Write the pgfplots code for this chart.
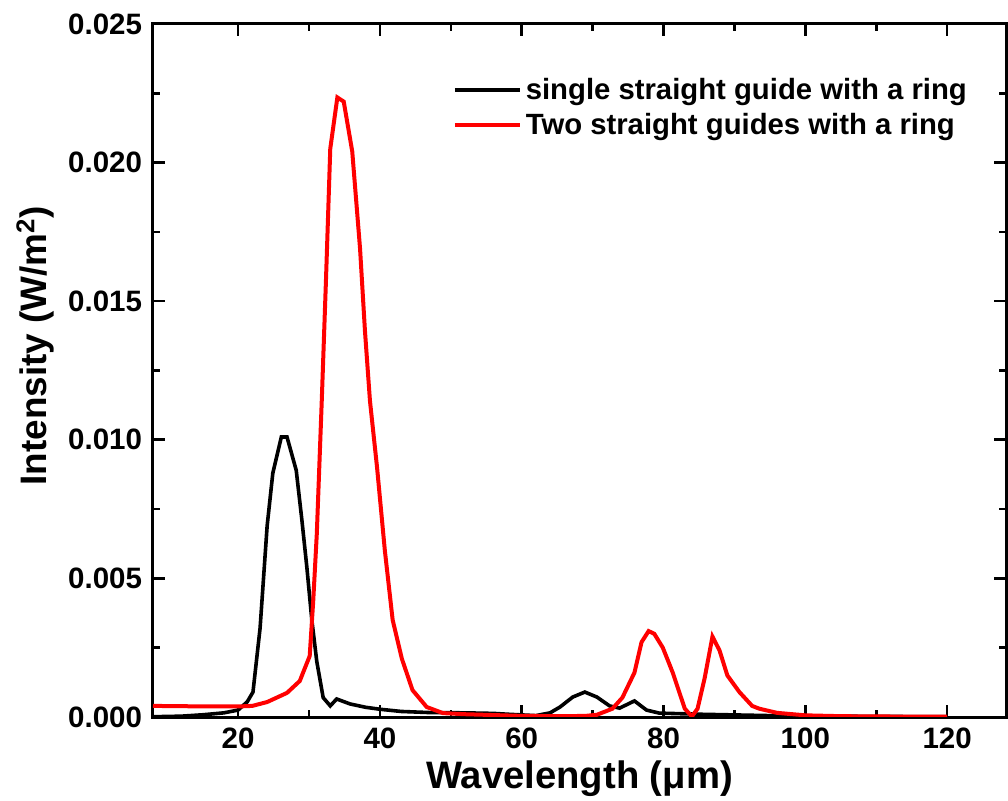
\documentclass[border=0pt]{standalone}
\usepackage{fontspec}
\setmainfont{Liberation Sans}
\usepackage{pgfplots}
\pgfplotsset{compat=1.18}
\begin{document}
\begin{tikzpicture}
\begin{axis}[
  at={(0,0)}, anchor=south west,
  scale only axis,
  width=426.5bp, height=346.5bp,
  xmin=8, xmax=128.3,
  ymin=0, ymax=0.025,
  xtick={20,40,60,80,100,120},
  xticklabels={20,40,60,80,100,120},
  ytick={0,0.005,0.010,0.015,0.020,0.025},
  yticklabels={0.000,0.005,0.010,0.015,0.020,0.025},
  scaled y ticks=false,
  minor x tick num=1,
  minor y tick num=1,
  tick align=inside,
  major tick length=6bp,
  minor tick length=3.5bp,
  tick style={line width=1.3bp, black},
  axis line style={line width=1.5bp},
  ticklabel style={font=\bfseries\fontsize{14.8}{16}\selectfont},
  yticklabel style={xshift=-2bp},
  xticklabel style={yshift=-2bp},
  xlabel={Wavelength (μm)},
  ylabel={Intensity (W/m\textsuperscript{2})},
  xlabel style={at={(rel axis cs:0.5,-0.1025)}, anchor=base, font=\bfseries\fontsize{19.2}{20}\selectfont},
  ylabel style={at={(rel axis cs:-0.1243,0.536)}, anchor=base, rotate=0, font=\bfseries\fontsize{18.5}{20}\selectfont},
  legend style={at={(rel axis cs:0.344,0.934)}, anchor=north west, draw=none, fill=none,
    font=\bfseries\fontsize{14.7}{16}\selectfont, row sep=1.5bp},
  legend cell align=left,
  legend image code/.code={\draw[#1] (0bp,0bp) -- (32.5bp,0bp);},
]
\addplot[black, line width=1.8bp] coordinates {
(8,0.00001) (12,0.00003) (15,0.00008) (18,0.00015) (20,0.00025) (21.3,0.00055)
(22.1,0.0009) (23.1,0.0032) (24.1,0.0069) (24.9,0.0088) (26.1,0.0101) (26.9,0.0101)
(28.2,0.0089) (29.0,0.0071) (29.7,0.0054) (30.4,0.0035) (31.1,0.0020) (32.0,0.0007)
(33.0,0.0004) (33.9,0.00065) (35.8,0.00047) (38,0.00035) (40,0.00028) (43,0.0002)
(47,0.00016) (52,0.00015) (56,0.00013) (58,0.0001) (62,0.00005) (64,0.00015)
(65.4,0.00036) (67.2,0.00072) (68.9,0.0009) (70.6,0.00072) (72.4,0.0004) (73.8,0.00032)
(75.9,0.00058) (77.6,0.00025) (79.4,0.00014) (85,0.0001) (95,0.00005) (110,0.00002) (120,0.00001)
};
\addlegendentry{single straight guide with a ring}
\addplot[red, line width=2bp] coordinates {
(8,0.0004) (16,0.00038) (20,0.00038) (22,0.0004) (24.1,0.00054) (26.9,0.00087)
(28.7,0.0013) (30.1,0.0022) (30.6,0.0042) (31.1,0.0066) (31.8,0.0114) (32.4,0.0158)
(33.0,0.0205) (34.0,0.02235) (34.9,0.0222) (36.1,0.0204) (37.2,0.0169) (37.9,0.0139)
(38.6,0.0114) (39.6,0.0090) (40.7,0.0060) (41.8,0.0035) (43.1,0.0021) (44.6,0.00097)
(46.6,0.00036) (48.9,0.00014) (52,0.0001) (56,0.00007) (60,0.00004) (66,0.00003)
(69,0.00004) (70.6,0.00008) (72.8,0.0003) (74.2,0.0007) (75.9,0.0016) (76.9,0.0027)
(77.9,0.0031) (78.7,0.0030) (79.9,0.0025) (81.3,0.0016) (83.0,0.0003) (84.0,0.00002)
(84.8,0.0003) (85.8,0.0014) (86.9,0.0029) (87.9,0.0024) (89.0,0.0015) (90.7,0.0009)
(92.5,0.0004) (93.5,0.0003) (96,0.00015) (100,0.00006) (105,0.00003) (110,0.00002) (120,0.00001)
};
\addlegendentry{Two straight guides with a ring}
\end{axis}
\pgfresetboundingbox
\path[use as bounding box] (-76.5bp,-42bp) rectangle (427.5bp,358.5bp);
\end{tikzpicture}
\end{document}
